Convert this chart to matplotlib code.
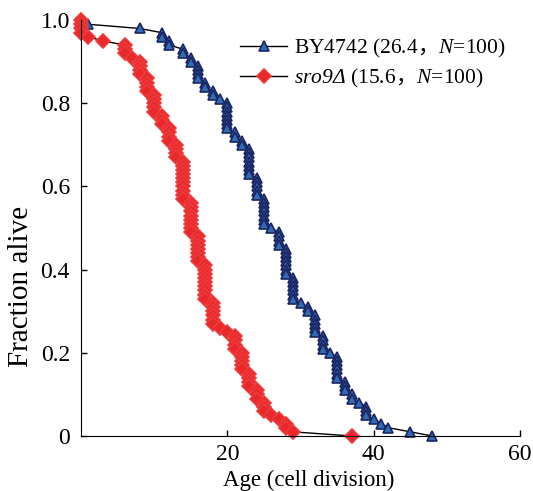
import numpy as np
import matplotlib
matplotlib.use('Agg')
import matplotlib.pyplot as plt

plt.rcParams['font.family'] = ['Liberation Serif', 'Noto Sans CJK SC']
plt.rcParams['mathtext.fontset'] = 'custom'
plt.rcParams['mathtext.rm'] = 'Liberation Serif'
plt.rcParams['mathtext.it'] = 'Liberation Serif:italic'
plt.rcParams['mathtext.cal'] = 'Liberation Serif:italic'
plt.rcParams['mathtext.sf'] = 'Noto Sans CJK SC'

# Replicative lifespan: age at death and number of cells dying at that age (N=100)
by_age = [1, 8, 11, 12, 14, 15, 16, 17, 18, 19, 20, 21, 22, 23, 24, 25, 26, 27,
          28, 29, 30, 31, 32, 33, 34, 35, 36, 37, 38, 39, 40, 41, 42, 45, 48]
by_deaths = [1, 1, 2, 2, 2, 2, 4, 2, 2, 1, 7, 2, 2, 7, 5, 7, 1, 4,
             7, 6, 1, 2, 5, 4, 1, 6, 3, 2, 1, 3, 1, 1, 1, 1, 1]

sro_age = [0, 1, 3, 6, 7, 8, 9, 10, 11, 12, 13, 14, 15, 16, 17, 18, 19, 20,
           21, 22, 23, 24, 25, 26, 27, 28, 29, 37]
sro_deaths = [3, 1, 1, 3, 1, 4, 4, 5, 3, 4, 4, 10, 8, 7, 9, 6, 1, 1,
              4, 5, 4, 3, 3, 1, 1, 2, 1, 1]

labels = ['BY4742 (26.4$\\mathsf{，}$$\\mathit{N}$=100)',
          '$\\mathcal{sro9Δ}$ (15.6$\\mathsf{，}$$\\mathit{N}$=100)']


def survival(ages, deaths, n=100):
    x, y = [0], [1.0]
    alive = n
    for a, d in zip(ages, deaths):
        for _ in range(d):
            alive -= 1
            x.append(a)
            y.append(alive / n)
    return np.array(x), np.array(y)


bx, by = survival(by_age, by_deaths)
sx, sy = survival(sro_age, sro_deaths)

fig = plt.figure(figsize=(5.33, 4.91), dpi=100)
ax = fig.add_axes([0.152, 0.112, 0.824, 0.847])

ax.plot(bx, by, color='black', lw=1, marker='^', ms=7,
        mfc='#2f6cb4', mec='#1b2563', mew=1.2, label=labels[0], clip_on=False)
ax.plot(sx, sy, color='black', lw=1, marker='D', ms=6.8,
        mfc='#e8282b', mec='#ee3a3a', mew=1.2, label=labels[1], clip_on=False)

ax.set_xlim(0, 60)
ax.set_ylim(0, 1.0)
ax.set_xticks([20, 40, 60])
ax.set_yticks([0, 0.2, 0.4, 0.6, 0.8, 1.0])
ax.set_yticklabels(['0', '0.2', '0.4', '0.6', '0.8', '1.0'])
ax.tick_params(direction='in', labelsize=17, length=4, width=1)
ax.tick_params(axis='y', pad=8)
ax.tick_params(axis='x', pad=6)
ax.spines['top'].set_visible(False)
ax.spines['right'].set_visible(False)

ax.set_xlabel('Age (cell division)', fontsize=16.5)
ax.xaxis.set_label_coords(0.518, -0.082)
ax.set_ylabel('Fraction alive', fontsize=21)
ax.yaxis.set_label_coords(-0.108, 0.36)

ax.legend(loc='upper right', bbox_to_anchor=(1.01, 1.005), frameon=False,
          fontsize=15.5, handlelength=2.2, handletextpad=0.3, labelspacing=0.3)

fig.savefig('out.png', dpi=100)
